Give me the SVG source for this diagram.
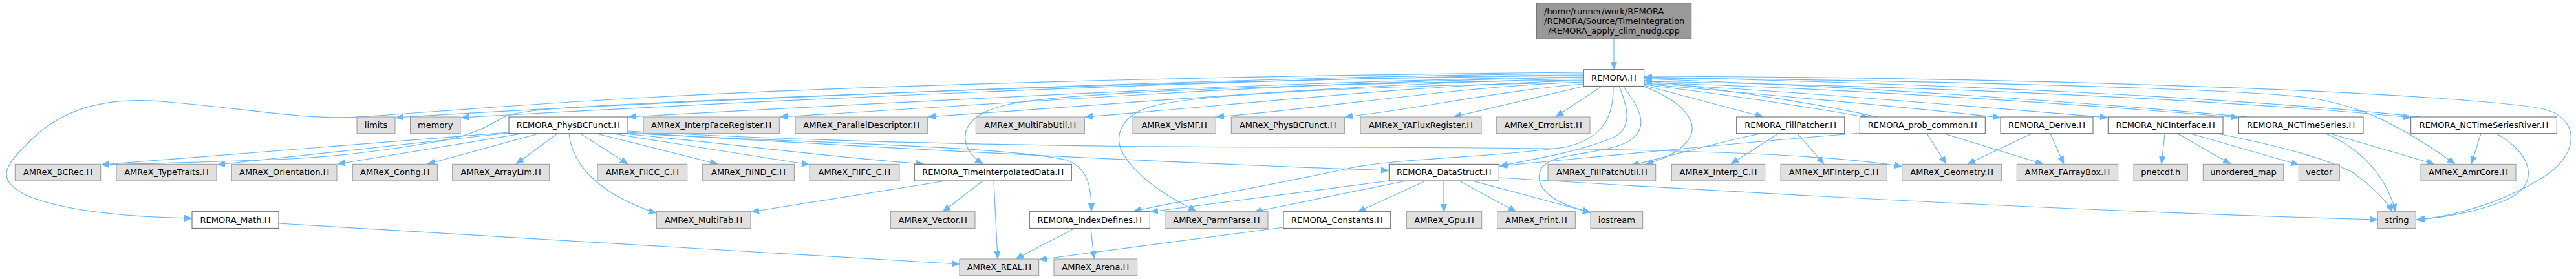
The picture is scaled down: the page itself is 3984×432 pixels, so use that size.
<svg xmlns="http://www.w3.org/2000/svg" width="3984" height="432" viewBox="0 0 3984 432">
<style>
.w rect{fill:#ffffff;stroke:#666666;stroke-width:1}
.g rect{fill:#e0e0e0;stroke:#999999;stroke-width:1}
.t rect{fill:#999999;stroke:#666666;stroke-width:1}
text{font-family:"DejaVu Sans","Liberation Sans",sans-serif;font-size:13px;fill:#000000;text-anchor:middle}
#edges path{fill:none;stroke:#63b8ff;stroke-width:1.2;marker-end:url(#ah)}
</style>
<defs>
<marker id="ah" viewBox="0 0 12 10" refX="12" refY="5" markerWidth="12" markerHeight="10" markerUnits="userSpaceOnUse" orient="auto"><path d="M0,0 L12,5 L0,10 z" fill="#63b8ff" stroke="#63b8ff" stroke-width="0.5"/></marker>
</defs>
<rect width="3984" height="432" fill="#ffffff"/>
<g id="edges">
<path d="M2496,60.3 L2496,107.7"/>
<path d="M2449,114 C1900,118 1000,158 612,182"/>
<path d="M2449,116 C1900,120 1100,160 713,182"/>
<path d="M2449,112 C1900,116 1300,134 1000,151 C800,162 650,175 555,181 C470,186 380,168 260,158 C160,148 90,170 40,225 C0,262 0,282 40,302 C100,328 200,336 297,338"/>
<path d="M2449,117 C1900,122 1300,146 1000,160 C880,166 800,170 778,182 C752,196 730,212 660,222 C600,232 530,242 450,246 C350,250 250,253 157,255"/>
<path d="M2449,119 C2000,124 1400,158 972,181"/>
<path d="M2449,120 C2000,126 1600,158 1206,181"/>
<path d="M2449,122 C2100,128 1750,160 1435,181"/>
<path d="M2449,125 C2200,130 1900,164 1678,181"/>
<path d="M2449,127 C2250,134 2050,168 1881,181"/>
<path d="M2449,130 C2320,140 2200,168 2080,181"/>
<path d="M2452,133 L2248,181"/>
<path d="M2478,133 L2406,181"/>
<path d="M2449,124 C2100,128 1700,140 1580,158 C1500,170 1488,200 1494,222 C1498,236 1508,246 1520,254"/>
<path d="M2449,128 C2150,132 1850,145 1780,165 C1730,180 1722,215 1738,240 C1758,272 1800,302 1850,327"/>
<path d="M2495,133 C2496,180 2480,215 2420,228 C2300,245 2150,245 2080,262 C1950,290 1820,312 1753,327"/>
<path d="M2504,133 C2515,160 2530,200 2490,215 C2440,235 2380,245 2320,257"/>
<path d="M2510,133 C2535,165 2560,205 2505,225 C2460,240 2395,238 2383,262 C2373,285 2390,312 2460,329"/>
<path d="M2540,133 C2600,155 2625,185 2615,210 C2605,230 2580,245 2545,254"/>
<path d="M2542,132 L2727,181"/>
<path d="M2543,131 C2700,150 2810,168 2890,182"/>
<path d="M2903,181 C2830,165 2700,142 2543,125"/>
<path d="M2543,130 C2750,148 2950,166 3094,182"/>
<path d="M2543,129 C2800,143 3050,165 3260,182"/>
<path d="M2543,128 C2850,137 3200,160 3463,182"/>
<path d="M3475,181 C3200,156 2850,133 2543,122"/>
<path d="M2543,126 C3000,134 3450,155 3729,182"/>
<path d="M3742,181 C3450,150 3000,130 2543,119"/>
<path d="M2543,121 C3000,124 3450,138 3560,150 C3640,160 3700,185 3797,254"/>
<path d="M2543,118 C3200,120 3800,145 3930,168 C3990,180 3990,235 3940,270 C3880,310 3800,335 3737,340"/>
<path d="M787,205 L157,255"/>
<path d="M787,206 L336,255"/>
<path d="M807,207 L522,254"/>
<path d="M833,207 L661,254"/>
<path d="M862,207 L798,254"/>
<path d="M898,207 L971,254"/>
<path d="M923,207 L1110,254"/>
<path d="M948,207 L1252,255"/>
<path d="M965,207 C1150,225 1300,245 1429,254"/>
<path d="M880,207 C885,255 925,300 1015,330"/>
<path d="M970,206 C1200,220 1550,225 1650,248 C1683,260 1688,290 1688,327"/>
<path d="M971,205 C1300,226 1800,252 2148,264"/>
<path d="M971,203 C1300,222 1700,228 2000,228 C2400,228 2800,232 2942,258"/>
<path d="M1463,280 L1162,328"/>
<path d="M1520,280 L1458,328"/>
<path d="M1537,280 L1543,401"/>
<path d="M1663,353 L1571,401"/>
<path d="M1687,353 L1692,401"/>
<path d="M1985,352 L1607,402"/>
<path d="M431,346 C800,368 1200,392 1484,409"/>
<path d="M2148,280 L1779,328"/>
<path d="M2175,280 L1940,328"/>
<path d="M2205,280 L2100,328"/>
<path d="M2233,280 L2233,328"/>
<path d="M2257,280 L2345,328"/>
<path d="M2277,280 L2460,329"/>
<path d="M2318,275 C2800,305 3300,330 3677,340"/>
<path d="M2722,207 C2650,222 2590,240 2523,256"/>
<path d="M2750,207 L2677,254"/>
<path d="M2780,207 L2821,254"/>
<path d="M2877,206 C2700,220 2500,240 2319,257"/>
<path d="M2980,207 L3010,254"/>
<path d="M3007,207 L3160,254"/>
<path d="M3142,207 L3043,254"/>
<path d="M3171,207 L3192,254"/>
<path d="M3348,207 L3343,254"/>
<path d="M3368,207 L3450,254"/>
<path d="M3388,207 L3555,255"/>
<path d="M3430,207 C3520,225 3600,245 3640,268 C3670,290 3690,310 3700,328"/>
<path d="M3597,207 C3650,230 3690,270 3705,328"/>
<path d="M3604,207 L3765,254"/>
<path d="M3837,207 L3822,254"/>
<path d="M3861,207 C3920,240 3930,290 3870,312 C3830,328 3780,337 3738,340"/>
</g>
<g id="n_top" class="t"><rect x="2376.3" y="4.7" width="239.4" height="55.6"/><text x="2388" y="21.5" style="text-anchor:start">/home/runner/work/REMORA</text><text x="2388" y="36.5" style="text-anchor:start">/REMORA/Source/TimeIntegration</text><text x="2496" y="51.5">/REMORA_apply_clim_nudg.cpp</text></g>
<g id="n_REMORA_H" class="w"><rect x="2449.3" y="107.7" width="93.4" height="25.7"/><text x="2496" y="124.8">REMORA.H</text></g>
<g id="n_limits" class="g"><rect x="552" y="181" width="59" height="25.7"/><text x="581.5" y="198.1">limits</text></g>
<g id="n_memory" class="g"><rect x="634.5" y="181" width="77.5" height="25.7"/><text x="673.25" y="198.1">memory</text></g>
<g id="n_REMORA_PhysBCFunct" class="w"><rect x="787" y="181" width="184" height="25.7"/><text x="879" y="198.1">REMORA_PhysBCFunct.H</text></g>
<g id="n_InterpFaceRegister" class="g"><rect x="995" y="181" width="210.3" height="25.7"/><text x="1100.15" y="198.1">AMReX_InterpFaceRegister.H</text></g>
<g id="n_ParallelDescriptor" class="g"><rect x="1230" y="181" width="204.3" height="25.7"/><text x="1332.15" y="198.1">AMReX_ParallelDescriptor.H</text></g>
<g id="n_MultiFabUtil" class="g"><rect x="1509.3" y="181" width="168" height="25.7"/><text x="1593.3" y="198.1">AMReX_MultiFabUtil.H</text></g>
<g id="n_VisMF" class="g"><rect x="1752" y="181" width="128.3" height="25.7"/><text x="1816.15" y="198.1">AMReX_VisMF.H</text></g>
<g id="n_AMReX_PhysBCFunct" class="g"><rect x="1904.3" y="181" width="175" height="25.7"/><text x="1991.8" y="198.1">AMReX_PhysBCFunct.H</text></g>
<g id="n_YAFluxRegister" class="g"><rect x="2104" y="181" width="187" height="25.7"/><text x="2197.5" y="198.1">AMReX_YAFluxRegister.H</text></g>
<g id="n_ErrorList" class="g"><rect x="2314.3" y="181" width="144.7" height="25.7"/><text x="2386.65" y="198.1">AMReX_ErrorList.H</text></g>
<g id="n_FillPatcher" class="w"><rect x="2685.7" y="181" width="167" height="25.7"/><text x="2769.2" y="198.1">REMORA_FillPatcher.H</text></g>
<g id="n_prob_common" class="w"><rect x="2876.3" y="181" width="194" height="25.7"/><text x="2973.3" y="198.1">REMORA_prob_common.H</text></g>
<g id="n_Derive" class="w"><rect x="3094" y="181" width="143" height="25.7"/><text x="3165.5" y="198.1">REMORA_Derive.H</text></g>
<g id="n_NCInterface" class="w"><rect x="3260.3" y="181" width="177.7" height="25.7"/><text x="3349.15" y="198.1">REMORA_NCInterface.H</text></g>
<g id="n_NCTimeSeries" class="w"><rect x="3462.3" y="181" width="192.7" height="25.7"/><text x="3558.65" y="198.1">REMORA_NCTimeSeries.H</text></g>
<g id="n_NCTimeSeriesRiver" class="w"><rect x="3728.7" y="181" width="225.6" height="25.7"/><text x="3841.5" y="198.1">REMORA_NCTimeSeriesRiver.H</text></g>
<g id="n_BCRec" class="g"><rect x="23.3" y="254.3" width="132.4" height="25.7"/><text x="89.5" y="271.4">AMReX_BCRec.H</text></g>
<g id="n_TypeTraits" class="g"><rect x="180" y="254.3" width="155" height="25.7"/><text x="257.5" y="271.4">AMReX_TypeTraits.H</text></g>
<g id="n_Orientation" class="g"><rect x="358.3" y="254.3" width="162.7" height="25.7"/><text x="439.65" y="271.4">AMReX_Orientation.H</text></g>
<g id="n_Config" class="g"><rect x="545.3" y="254.3" width="131" height="25.7"/><text x="610.8" y="271.4">AMReX_Config.H</text></g>
<g id="n_ArrayLim" class="g"><rect x="699.7" y="254.3" width="150" height="25.7"/><text x="774.7" y="271.4">AMReX_ArrayLim.H</text></g>
<g id="n_FilCC" class="g"><rect x="924" y="254.3" width="138.7" height="25.7"/><text x="993.35" y="271.4">AMReX_FilCC_C.H</text></g>
<g id="n_FilND" class="g"><rect x="1086.7" y="254.3" width="141.6" height="25.7"/><text x="1157.5" y="271.4">AMReX_FilND_C.H</text></g>
<g id="n_FilFC" class="g"><rect x="1252" y="254.3" width="139" height="25.7"/><text x="1321.5" y="271.4">AMReX_FilFC_C.H</text></g>
<g id="n_TimeInterpolatedData" class="w"><rect x="1414.3" y="254.3" width="243" height="25.7"/><text x="1535.8" y="271.4">REMORA_TimeInterpolatedData.H</text></g>
<g id="n_DataStruct" class="w"><rect x="2148.3" y="254.3" width="170" height="25.7"/><text x="2233.3" y="271.4">REMORA_DataStruct.H</text></g>
<g id="n_FillPatchUtil" class="g"><rect x="2394" y="254.3" width="166.7" height="25.7"/><text x="2477.35" y="271.4">AMReX_FillPatchUtil.H</text></g>
<g id="n_Interp_C" class="g"><rect x="2585.3" y="254.3" width="144.4" height="25.7"/><text x="2657.5" y="271.4">AMReX_Interp_C.H</text></g>
<g id="n_MFInterp_C" class="g"><rect x="2754" y="254.3" width="164.3" height="25.7"/><text x="2836.15" y="271.4">AMReX_MFInterp_C.H</text></g>
<g id="n_Geometry" class="g"><rect x="2941.7" y="254.3" width="154" height="25.7"/><text x="3018.7" y="271.4">AMReX_Geometry.H</text></g>
<g id="n_FArrayBox" class="g"><rect x="3119.3" y="254.3" width="156.4" height="25.7"/><text x="3197.5" y="271.4">AMReX_FArrayBox.H</text></g>
<g id="n_pnetcdf" class="g"><rect x="3300" y="254.3" width="83.3" height="25.7"/><text x="3341.65" y="271.4">pnetcdf.h</text></g>
<g id="n_unordered_map" class="g"><rect x="3407.3" y="254.3" width="124.4" height="25.7"/><text x="3469.5" y="271.4">unordered_map</text></g>
<g id="n_vector" class="g"><rect x="3555.3" y="254.3" width="63" height="25.7"/><text x="3586.8" y="271.4">vector</text></g>
<g id="n_AmrCore" class="g"><rect x="3744" y="254.3" width="147" height="25.7"/><text x="3817.5" y="271.4">AMReX_AmrCore.H</text></g>
<g id="n_Math" class="w"><rect x="297" y="327.7" width="134" height="25.7"/><text x="364" y="344.8">REMORA_Math.H</text></g>
<g id="n_MultiFab" class="g"><rect x="1015.3" y="327.7" width="145.7" height="25.7"/><text x="1088.15" y="344.8">AMReX_MultiFab.H</text></g>
<g id="n_Vector" class="g"><rect x="1377.3" y="327.7" width="130.7" height="25.7"/><text x="1442.65" y="344.8">AMReX_Vector.H</text></g>
<g id="n_IndexDefines" class="w"><rect x="1592.3" y="327.7" width="186" height="25.7"/><text x="1685.3" y="344.8">REMORA_IndexDefines.H</text></g>
<g id="n_ParmParse" class="g"><rect x="1801.7" y="327.7" width="159.3" height="25.7"/><text x="1881.35" y="344.8">AMReX_ParmParse.H</text></g>
<g id="n_Constants" class="w"><rect x="1985" y="327.7" width="165.7" height="25.7"/><text x="2067.85" y="344.8">REMORA_Constants.H</text></g>
<g id="n_Gpu" class="g"><rect x="2175.3" y="327.7" width="116.4" height="25.7"/><text x="2233.5" y="344.8">AMReX_Gpu.H</text></g>
<g id="n_Print" class="g"><rect x="2315.7" y="327.7" width="120.6" height="25.7"/><text x="2376" y="344.8">AMReX_Print.H</text></g>
<g id="n_iostream" class="g"><rect x="2460" y="327.7" width="80.7" height="25.7"/><text x="2500.35" y="344.8">iostream</text></g>
<g id="n_string" class="g"><rect x="3677.3" y="327.7" width="59" height="25.7"/><text x="3706.8" y="344.8">string</text></g>
<g id="n_REAL" class="g"><rect x="1484" y="401" width="122.7" height="25.7"/><text x="1545.35" y="418.1">AMReX_REAL.H</text></g>
<g id="n_Arena" class="g"><rect x="1630" y="401" width="128.7" height="25.7"/><text x="1694.35" y="418.1">AMReX_Arena.H</text></g>
</svg>
